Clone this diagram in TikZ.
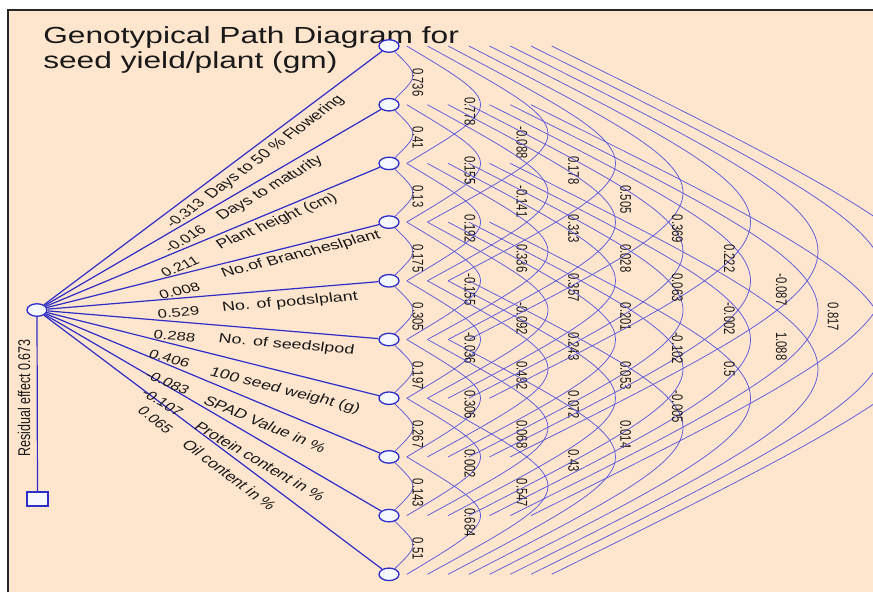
\documentclass[tikz,border=0pt]{standalone}
\usepackage{fontspec}
\setmainfont{Liberation Sans}
\usetikzlibrary{shapes.geometric}
\pgfdeclarelayer{back}
\pgfdeclarelayer{mid}
\pgfsetlayers{back,mid,main}
\definecolor{bgpeach}{RGB}{254,229,206}
\definecolor{pathblue}{RGB}{45,45,200}
\definecolor{corrblue}{RGB}{90,90,220}
\definecolor{nodewhite}{RGB}{246,248,255}
\definecolor{ink}{RGB}{25,25,25}
\tikzset{
  trait/.style={ellipse, draw=pathblue, fill=nodewhite, line width=1.3pt, minimum width=14.7pt, minimum height=12.5pt, inner sep=0pt},
  resbox/.style={rectangle, draw=pathblue, fill=nodewhite, line width=1.3pt, minimum width=15.4pt, minimum height=14pt, inner sep=0pt},
  pathline/.style={draw=pathblue, line width=1.2pt},
  corr/.style={draw=corrblue, line width=0.75pt},
  corrlbl/.style={rotate=-90, anchor=west, inner sep=0pt, text=ink, font=\fontsize{11.3}{12}\selectfont},
  coeflbl/.style={anchor=center, inner sep=0pt, text=ink, font=\fontsize{12.3}{14}\selectfont},
  namelbl/.style={anchor=center, inner sep=0pt, text=ink, font=\fontsize{13.2}{15}\selectfont},
  titletext/.style={anchor=base west, inner sep=0pt, text=ink, font=\fontsize{23.3}{26}\selectfont},
}
\begin{document}
\begin{tikzpicture}[x=0.735294pt, y=-1pt, xscale=1.36, transform shape]
\useasboundingbox (0,0) rectangle (873,592);
\begin{pgfonlayer}{back}
\fill[white] (0,0) rectangle (873,592);
\fill[bgpeach] (8,10) rectangle (873,592);
\draw[black!85, line width=1.4pt] (8,592) -- (8,10) -- (873,10);
\end{pgfonlayer}
% title
\node[titletext] (title1) at (43,43) {Genotypical Path Diagram for};
\node[titletext] (title2) at (43,68) {seed yield/plant (gm)};
% trait nodes
\foreach \i in {1,...,10} {
  \node[trait] (n\i) at (389,{46+(\i-1)*58.7}) {};
}
\node[trait] (hub) at (37,310) {};
\node[resbox] (res) at (37.5,499) {};
\node[rotate=90, inner sep=0pt, text=ink, font=\fontsize{12.5}{13}\selectfont] (resid) at (24,398) {Residual effect 0.673};
% path lines
\begin{pgfonlayer}{mid}
\draw[pathline] (hub) -- (res);
\foreach \i in {1,...,10} {
  \draw[pathline] (hub) -- (n\i);
}
\end{pgfonlayer}
% path coefficients and trait names
\foreach \i/\cf/\cx/\cy/\nm/\nx/\ny in {
  1/-0.313/185/213/Days to 50 \% Flowering/275/147.5,
  2/-0.016/185/239/Days to maturity/270/188.5,
  3/0.211/180/266.5/Plant height (cm)/277/221.5,
  4/0.008/179.5/291/No.of Brancheslplant/301/254.5,
  5/0.529/178.5/312.5/No. of podslplant/290/302.5,
  6/0.288/174.5/336/No. of seedslpod/286.5/345,
  7/0.406/169.5/358.5/100 seed weight (g)/285/391,
  8/-0.083/167.5/382.5/SPAD Value in \%/265/424,
  9/-0.107/162.5/402.5/Protein content in \%/260/461.5,
  10/0.065/155.5/420/Oil content in \%/229.5/475} {
  \pgfmathsetmacro\yi{46+(\i-1)*58.7}
  \pgfmathsetmacro\ang{atan2(310-\yi,258.8)}
  \node[coeflbl, rotate=\ang] (c\i) at (\cx,\cy) {\cf};
  \node[namelbl, rotate=\ang] (t\i) at (\nx,\ny) {\nm};
}
% correlation arcs
\begin{pgfonlayer}{mid}
\foreach \d/\vals in {
  1/{0.736,0.41,0.13,0.175,0.305,0.197,0.267,0.143,0.51},
  2/{0.778,0.155,0.192,-0.155,-0.036,0.306,0.002,0.684},
  3/{-0.088,-0.141,0.336,-0.092,0.492,0.068,0.547},
  4/{0.178,0.313,0.357,0.243,0.072,0.43},
  5/{0.505,0.028,0.201,0.053,0.014},
  6/{0.369,0.063,-0.102,-0.005},
  7/{0.222,-0.002,0.5},
  8/{-0.087,1.088},
  9/{0.817}} {
  \foreach \v [count=\i] in \vals {
    \pgfmathtruncatemacro\j{\i+\d}
    \pgfmathsetmacro\ya{46+(\i-1)*58.7}
    \pgfmathsetmacro\yb{46+(\j-1)*58.7}
    \pgfmathsetmacro\ym{(\ya+\yb)/2}
    \pgfmathsetmacro\apex{404+51.9*(\d-1)}
    \ifnum\d=1
      \draw[corr] (n\i) .. controls (419,\ym) .. (n\j);
    \else
      \pgfmathsetmacro\xo{406.7+20.7*(\d-2)}
      \pgfmathsetmacro\ctl{2*\apex-\xo}
      \coordinate (s\i-\j) at (\xo,\ya);
      \coordinate (e\i-\j) at (\xo,\yb);
      \draw[corr] (s\i-\j) .. controls (\ctl,\ym) .. (e\i-\j);
    \fi
    \node[corrlbl] (r\i-\j) at ({\apex+14},{\ym-7.5}) {\v};
  }
}
\end{pgfonlayer}
\end{tikzpicture}
\end{document}
